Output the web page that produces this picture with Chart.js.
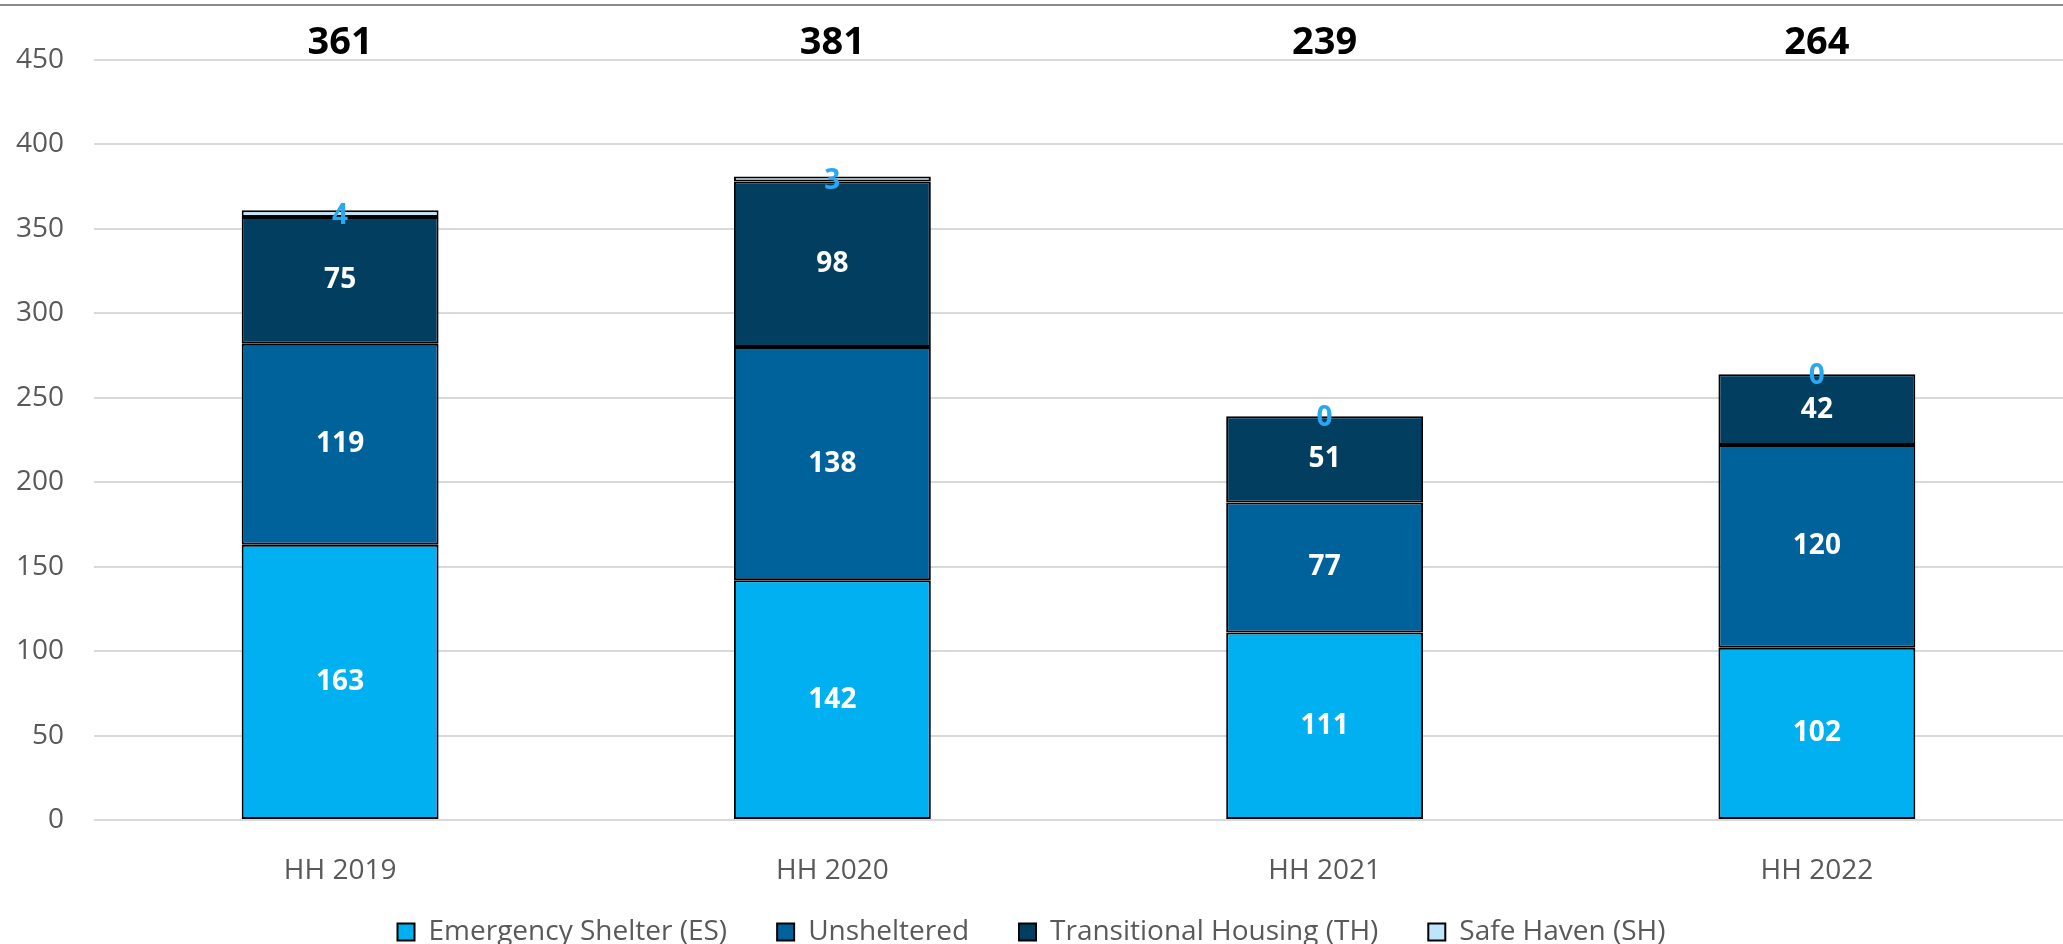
<!DOCTYPE html>
<html>
<head>
<meta charset="utf-8">
<script src="https://cdn.jsdelivr.net/npm/chart.js@4/dist/chart.umd.min.js"></script>
<style>
  html, body { margin: 0; padding: 0; background: #fff; }
  canvas { display: block; }
</style>
</head>
<body>
<canvas id="myChart" width="2063" height="944"></canvas>
<script>
const years = ["HH 2019", "HH 2020", "HH 2021", "HH 2022"];
const emergencyShelter = [163, 142, 111, 102];
const unsheltered = [119, 138, 77, 120];
const transitional = [75, 98, 51, 42];
const safeHaven = [4, 3, 0, 0];
const yTicks = [0, 50, 100, 150, 200, 250, 300, 350, 400, 450];

Chart.defaults.font.family = "'Open Sans', sans-serif";

// white / blue labels inside each segment + total above each column
const labelPlugin = {
  id: "labels",
  beforeLayout(chart) {
    // legend keeps wide horizontal gaps but a fixed height
    const lg = chart.legend;
    if (lg && !lg._patched) {
      const fit = lg.fit;
      lg.fit = function () {
        fit.call(this);
        this.height = 76;
        this.minSize && (this.minSize.height = 76);
      };
      lg._patched = true;
    }
  },
  beforeDraw(chart) {
    const c = chart.ctx;
    c.save();
    c.strokeStyle = "#8c8c8c";
    c.lineWidth = 2;
    c.beginPath();
    c.moveTo(0, 5);
    c.lineTo(chart.width, 5);
    c.stroke();
    c.restore();
  },
  afterDatasetsDraw(chart) {
    const c = chart.ctx;
    c.save();
    c.textAlign = "center";
    c.textBaseline = "middle";
    chart.data.datasets.forEach((ds, i) => {
      const meta = chart.getDatasetMeta(i);
      c.fillStyle = i === 3 ? "#29a8f2" : "#ffffff";
      c.font = "bold 28px 'Open Sans'";
      meta.data.forEach((bar, j) => {
        c.fillText(String(ds.data[j]), bar.x, (bar.y + bar.base) / 2 + (i === 3 ? 2 : 0));
      });
    });
    const yScale = chart.scales.y;
    const top = yScale.getPixelForValue(yTicks[yTicks.length - 1]);
    c.fillStyle = "#000000";
    c.font = "bold 38px 'Open Sans'";
    years.forEach((y, j) => {
      const total = emergencyShelter[j] + unsheltered[j] + transitional[j] + safeHaven[j];
      const x = chart.scales.x.getPixelForValue(j);
      c.fillText(String(total), x, top - 17);
    });
    c.restore();
  },
};

const ctx = document.getElementById("myChart").getContext("2d");
const myChart = new Chart(ctx, {
  type: "bar",
  data: {
    labels: years,
    datasets: [
      {
        label: "Emergency Shelter (ES)",
        data: emergencyShelter,
        backgroundColor: "#00b0f0",
      },
      {
        label: "Unsheltered",
        data: unsheltered,
        backgroundColor: "#00629b",
      },
      {
        label: "Transitional Housing (TH)",
        data: transitional,
        backgroundColor: "#023e60",
      },
      {
        label: "Safe Haven (SH)",
        data: safeHaven,
        backgroundColor: "#bde6fa",
      },
    ],
  },
  options: {
    responsive: false,
    animation: false,
    datasets: {
      bar: {
        borderColor: "#000000",
        borderWidth: 2,
        borderSkipped: false,
        categoryPercentage: 1,
        barPercentage: 0.4,
      },
    },
    layout: {
      padding: { top: 60, right: 0, left: 0, bottom: 0 },
    },
    plugins: {
      tooltip: { enabled: false },
      legend: {
        position: "bottom",
        labels: {
          color: "#595959",
          font: { size: 28 },
          boxWidth: 17,
          boxHeight: 17,
          padding: 50,
        },
      },
    },
    scales: {
      x: {
        stacked: true,
        afterFit(scale) {
          scale.height = 48;
          // let the labels run past the short axis box
          scale._computeLabelArea = () => undefined;
        },
        grid: { display: false },
        border: { display: false },
        ticks: { color: "#595959", font: { size: 28 }, padding: 26 },
      },
      y: {
        stacked: true,
        min: 0,
        max: 450,
        afterFit(scale) {
          scale.width = 94;
        },
        afterBuildTicks(scale) {
          scale.ticks = yTicks.map((v) => ({ value: v }));
        },
        grid: { color: "#d9d9d9", lineWidth: 2, drawTicks: false },
        border: { display: false },
        ticks: { color: "#595959", font: { size: 28 }, padding: 30 },
      },
    },
  },
  plugins: [labelPlugin],
});
</script>
</body>
</html>
